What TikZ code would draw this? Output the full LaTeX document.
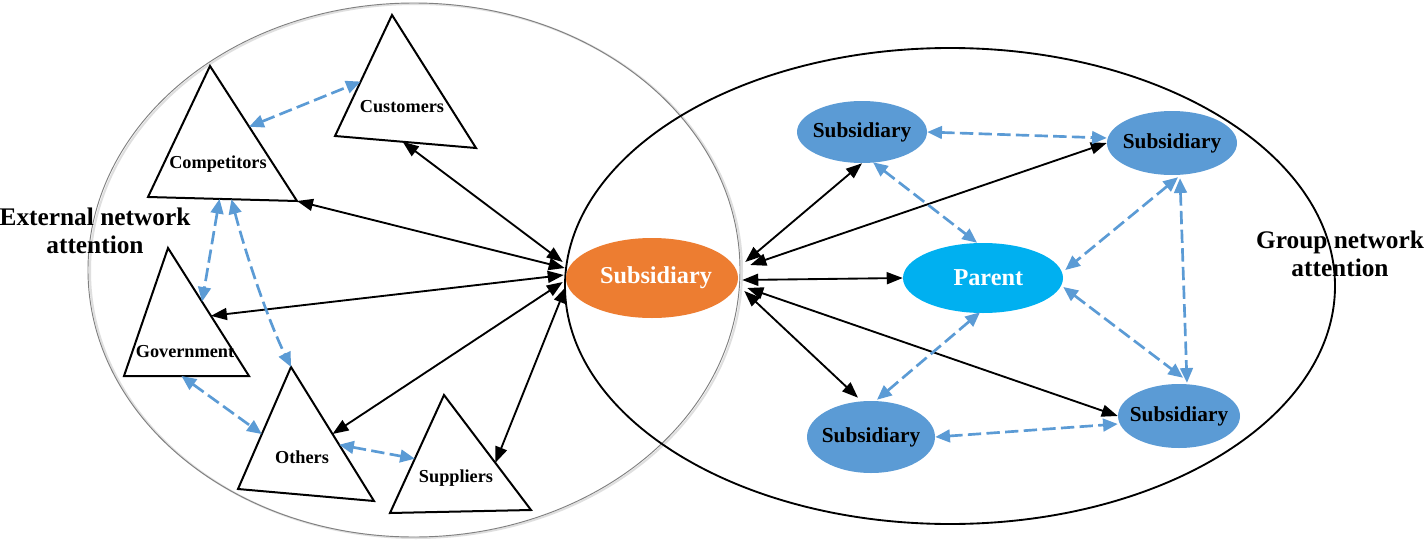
\documentclass[tikz,border=0pt]{standalone}
\usepackage{fontspec}
\setmainfont{Liberation Serif}
\usetikzlibrary{arrows.meta,shapes.geometric,calc}
\definecolor{subblue}{HTML}{5B9BD5}
\definecolor{parblue}{HTML}{00B0F0}
\definecolor{suborange}{HTML}{ED7D31}
\begin{document}
\begin{tikzpicture}[x=0.75pt,y=-0.75pt,
  blk/.style={line width=1.4pt,{Triangle[length=12pt,width=9pt]}-{Triangle[length=12pt,width=9pt]}},
  bdash/.style={subblue,line width=2pt,dash pattern=on 10pt off 4pt,{Triangle[length=11pt,width=9.5pt]}-{Triangle[length=11pt,width=9.5pt]}},
  tri/.style={line width=1.5pt,line join=miter},
  tlabel/.style={font=\fontsize{13.7}{15}\selectfont\bfseries,inner sep=0pt},
  sidelab/.style={font=\fontsize{19}{21}\selectfont\bfseries,inner sep=0pt,align=center},
  oval/.style={ellipse,inner sep=0pt,draw=none},
  subnode/.style={oval,fill=subblue,text=black,font=\fontsize{16}{18}\selectfont\bfseries},
  bignode/.style={oval,text=white,font=\fontsize{18.2}{20}\selectfont\bfseries}
]
\fill[white] (0,0) rectangle (1425,546);
\useasboundingbox (0,0) rectangle (1425,546);

% container ellipses
\draw[gray!25,line width=1.5pt] (416,271) ellipse [x radius=326, y radius=267];
\draw[gray,line width=0.7pt] (414,270) ellipse [x radius=326, y radius=267];
\draw[black,line width=1.4pt] (950,286) ellipse [x radius=385, y radius=238];

% side labels
\node[sidelab] (ext) at (95,231) {External network\\attention};
\node[sidelab] (grp) at (1340,254) {Group network\\attention};

% triangles
\coordinate (cuA) at (392,15); \coordinate (cuL) at (335,136); \coordinate (cuR) at (476,148);
\draw[tri] (cuA)--(cuL)--(cuR)--cycle;
\node[tlabel] (cust) at (402,107) {Customers};

\coordinate (coA) at (210,66); \coordinate (coL) at (148,197); \coordinate (coR) at (297,201);
\draw[tri] (coA)--(coL)--(coR)--cycle;
\node[tlabel] (comp) at (218,164) {Competitors};

\coordinate (goA) at (168,248); \coordinate (goL) at (124,376); \coordinate (goR) at (249,376);
\draw[tri] (goA)--(goL)--(goR)--cycle;
\node[tlabel] (gov) at (185,352) {Government};

\coordinate (otA) at (291,367); \coordinate (otL) at (238,489); \coordinate (otR) at (374,501);
\draw[tri] (otA)--(otL)--(otR)--cycle;
\node[tlabel] (oth) at (302,457) {Others};

\coordinate (suA) at (444,395); \coordinate (suL) at (390,513); \coordinate (suR) at (531,510);
\draw[tri] (suA)--(suL)--(suR)--cycle;
\node[tlabel] (sup) at (456,478) {Suppliers};

% edge points on triangles
\coordinate (cuB) at ($(cuL)!0.48!(cuR)$);
\coordinate (cuE) at ($(cuA)!0.55!(cuL)$);
\coordinate (coE) at ($(coA)!0.45!(coR)$);
\coordinate (coB1) at ($(coL)!0.48!(coR)$);
\coordinate (coB2) at ($(coL)!0.56!(coR)$);
\coordinate (goE1) at ($(goA)!0.42!(goR)$);
\coordinate (goE2) at ($(goA)!0.53!(goR)$);
\coordinate (goB) at ($(goL)!0.46!(goR)$);
\coordinate (otE1) at ($(otA)!0.55!(otL)$);
\coordinate (otE2) at ($(otA)!0.50!(otR)$);
\coordinate (otE3) at ($(otA)!0.58!(otR)$);
\coordinate (suE1) at ($(suA)!0.54!(suL)$);
\coordinate (suE2) at ($(suA)!0.59!(suR)$);

% oval nodes
\node[bignode,fill=suborange,minimum width=129pt,minimum height=60pt] (sub) at (652,278) {\makebox[0pt]{\hspace{6pt}Subsidiary}};
\node[bignode,fill=parblue,minimum width=120pt,minimum height=52.5pt] (par) at (983,278) {\makebox[0pt]{\hspace{8pt}Parent}};
\node[subnode,minimum width=97.5pt,minimum height=46.5pt] (tl) at (862,132) {\makebox[0pt]{Subsidiary}};
\node[subnode,minimum width=97.5pt,minimum height=48pt] (tr) at (1172,143) {\makebox[0pt]{Subsidiary}};
\node[subnode,minimum width=96pt,minimum height=54pt] (bl) at (871,437) {\makebox[0pt]{Subsidiary}};
\node[subnode,minimum width=91.5pt,minimum height=48pt] (br) at (1179,416) {\makebox[0pt]{Subsidiary}};

% end points around the central subsidiary
\coordinate (sL1) at ($(sub.west)+(-3,-16)$);
\coordinate (sL2) at ($(sub.west)+(-1,-10)$);
\coordinate (sL3) at ($(sub.west)+(-2,-3)$);
\coordinate (sL4) at ($(sub.west)+(-3,4)$);
\coordinate (sL5) at ($(sub.west)+(0,9)$);
\coordinate (sR1) at ($(sub.east)+(7,-16)$);
\coordinate (sR2) at ($(sub.east)+(12,-13)$);
\coordinate (sR3) at ($(sub.east)+(4,2)$);
\coordinate (sR4) at ($(sub.east)+(6,13)$);
\coordinate (sR5) at ($(sub.east)+(9,10)$);

% black connectors
\draw[blk] (sL1) -- (cuB);
\draw[blk] (sL2) -- (coR);
\draw[blk] (sL3) -- (goE2);
\draw[blk] (sL4) -- (otE2);
\draw[blk] (sL5) -- (suE2);
\draw[blk] (sR1) -- (tl.south);
\draw[blk] (sR2) -- (tr.west);
\draw[blk] (sR3) -- (par.west);
\draw[blk] (sR4) -- ($(bl.north)+(-13,-3)$);
\draw[blk] (sR5) -- (br.west);

% blue dashed connectors (external)
\draw[bdash] (coE) -- (cuE);
\draw[bdash] (coB1) -- (goE1);
\draw[bdash] (coB2) .. controls (246,255) and (268,320) .. (otA);
\draw[bdash] (goB) -- (otE1);
\draw[bdash] (otE3) -- (suE1);

% blue dashed connectors (group)
\draw[bdash] (tl.east) -- ($(tr.west)+(0,-5)$);
\draw[bdash] ($(tl.south)+(11,-1)$) -- ($(par.north)+(-6,0)$);
\draw[bdash] ($(tr.south)+(6,2)$) -- ($(par.east)+(2,-8)$);
\draw[bdash] ($(tr.south)+(8,3)$) -- ($(br.north)+(8,-1)$);
\draw[bdash] ($(par.south)+(-3,-1)$) -- ($(bl.north)+(6,-1)$);
\draw[bdash] ($(par.east)+(0,9)$) -- ($(br.north)+(4,-6)$);
\draw[bdash] (bl.east) -- ($(br.west)+(0,8)$);
\end{tikzpicture}
\end{document}
